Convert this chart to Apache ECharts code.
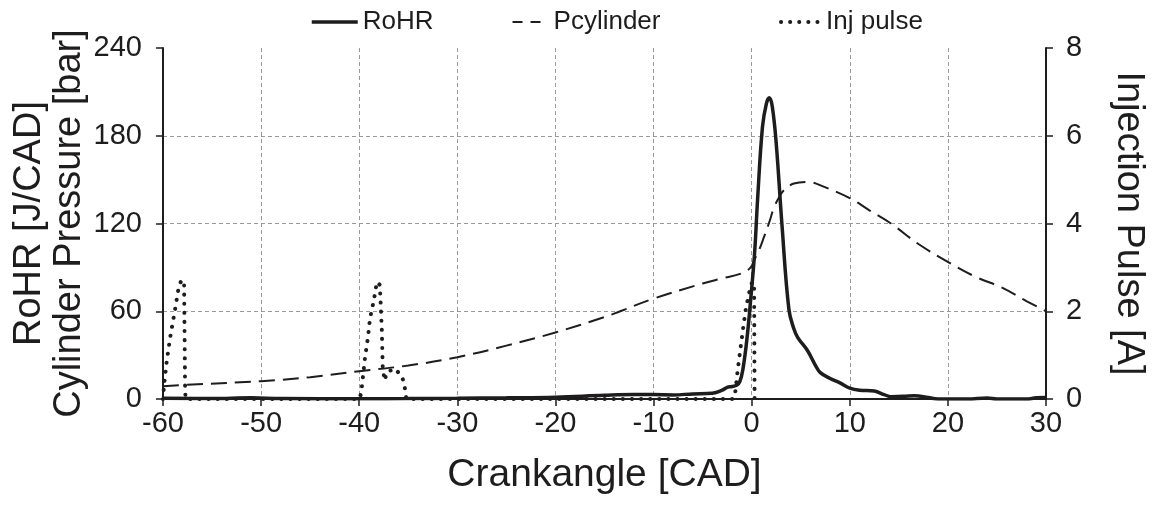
<!DOCTYPE html>
<html>
<head>
<meta charset="utf-8">
<script src="https://cdn.jsdelivr.net/npm/echarts@6/dist/echarts.min.js"></script>
<style>
html,body{margin:0;padding:0;background:#fff;}
#chart{width:1152px;height:507px;}
</style>
</head>
<body>
<div id="chart"></div>
<script>
// ---- data ----
var xTicks = [-60, -50, -40, -30, -20, -10, 0, 10, 20, 30];

var rohrCA = [-60, -55, -51, -48, -40, -35, -30, -25, -20, -15, -12, -10, -8, -6, -4, -3, -2.5, -2, -1.5, -1.2, -0.9, -0.5, -0.1, 0.3, 0.6, 1.1, 1.5, 1.8, 2.1, 2.5, 3.1, 3.8, 4.3, 4.7, 5.7, 6.5, 7, 8, 9, 10, 11, 12.5, 13.5, 14.2, 15.5, 16.6, 18, 19, 22, 24, 25, 28, 29, 30];
var rohr   = [0.5, 0.3, 0.8, 0.3, 0.2, 0.3, 0.5, 0.8, 1.2, 2.5, 3, 3, 2.8, 3.5, 4, 6, 8, 8.5, 9.5, 12, 20, 40, 68, 100, 136, 186, 202, 206, 200, 175, 118, 61, 48, 42, 33, 23, 18, 14, 11, 7.5, 6, 5.4, 3, 1.6, 1.8, 2.3, 1, 0, 0, 0.7, 0, 0, 0.8, 1];

var pcylCA = [-60, -57, -50, -45, -40, -35, -30, -25, -20, -15, -13.4, -10, -5, -3, -1, -0.1, 0.24, 0.7, 1.26, 1.8, 2.28, 2.8, 3.3, 4.3, 5.7, 7.4, 10.1, 12, 14.2, 17, 20.3, 23, 25.4, 28, 30];
var pcyl   = [8.8, 9.9, 12.2, 14.9, 19, 22.9, 28.6, 36.5, 45.5, 56, 60, 68.6, 79, 82.5, 86, 90, 94.8, 101, 110.8, 121, 131, 138, 142.8, 147.3, 148.4, 145, 137, 129, 120, 106, 92.6, 83, 76.5, 67, 60];

var injCA = [-60, -59.9, -59.6, -59.2, -58.8, -58.4, -58.1, -57.85, -57.75, -57.7, -40, -39.8, -39.6, -39.4, -39.1, -38.9, -38.5, -38.2, -37.9, -37.7, -37.6, -37.4, -37.2, -36.4, -35.7, -35.4, -35.3, -35.2, -1.9, -1.7, -1.46, -1.12, -0.85, -0.61, -0.27, 0.05, 0.25, 0.3];
var inj   = [0, 0.3, 0.9, 1.5, 2.0, 2.55, 2.72, 2.6, 0.3, 0, 0, 0.13, 0.55, 0.96, 1.42, 1.84, 2.26, 2.67, 2.6, 1.6, 0.69, 0.42, 0.61, 0.69, 0.54, 0.35, 0.15, 0, 0, 0.1, 0.59, 1.19, 1.65, 2.03, 2.41, 2.67, 2.6, 0];

function pairs(xs, ys) { return xs.map(function (x, i) { return [x, ys[i]]; }); }

var ink = '#1e1c1d';
var font = '"Liberation Sans", Arial, sans-serif';
var legendCommon = {
  top: 4, itemWidth: 46, itemHeight: 14, itemGap: 68,
  itemStyle: {opacity: 0},
  textStyle: {fontSize: 26, color: ink, fontFamily: font}
};

var chart = echarts.init(document.getElementById('chart'), null, {renderer: 'canvas'});
chart.setOption({
  animation: false,
  backgroundColor: '#fff',
  textStyle: {fontFamily: font, color: ink},
  grid: {left: 163, right: 106, top: 48, bottom: 108, containLabel: false, outerBoundsMode: 'none'},
  legend: [
    Object.assign({left: 305, data: [
      {name: 'RoHR', lineStyle: {width: 3.5, color: ink}},
      {name: 'Pcylinder', lineStyle: {width: 2, color: ink, type: [0, 10, 10, 8, 10, 30]}}
    ]}, legendCommon),
    Object.assign({left: 768, data: [
      {name: 'Inj pulse', lineStyle: {width: 4, color: ink, type: [0.1, 9], cap: 'round', dashOffset: -6}}
    ]}, legendCommon)
  ],
  xAxis: {
    type: 'value', min: -60, max: 30, interval: 10,
    axisLine: {show: true, onZero: false, lineStyle: {color: ink, width: 2}},
    axisTick: {show: true, inside: false, length: 7, lineStyle: {color: ink, width: 1.5}},
    axisLabel: {fontSize: 29, color: ink, margin: 10, fontFamily: font},
    splitLine: {show: true, showMinLine: false, showMaxLine: false, lineStyle: {color: '#9a9a9a', type: [4, 3], width: 1}},
    name: 'Crankangle [CAD]', nameLocation: 'middle', nameGap: 57, nameMoveOverlap: false,
    nameTextStyle: {fontSize: 39, color: ink, fontFamily: font}
  },
  yAxis: [{
    type: 'value', min: 0, max: 240, interval: 60,
    axisLine: {show: true, onZero: false, lineStyle: {color: ink, width: 2}},
    axisTick: {show: true, inside: false, length: 7, lineStyle: {color: ink, width: 1.5}},
    axisLabel: {fontSize: 29, color: ink, margin: 21, fontFamily: font},
    splitLine: {show: true, showMinLine: false, showMaxLine: false, lineStyle: {color: '#9a9a9a', type: [4, 3], width: 1}},
    name: 'RoHR [J/CAD]\nCylinder Pressure [bar]', nameLocation: 'middle', nameGap: 73, nameMoveOverlap: false,
    nameTextStyle: {fontSize: 38, lineHeight: 40, color: ink, fontFamily: font}
  }, {
    type: 'value', min: 0, max: 8, interval: 2, position: 'right',
    axisLine: {show: true, onZero: false, lineStyle: {color: ink, width: 2}},
    axisTick: {show: true, inside: false, length: 7, lineStyle: {color: ink, width: 1.5}},
    axisLabel: {fontSize: 29, color: ink, margin: 20, fontFamily: font},
    splitLine: {show: false},
    name: 'Injection Pulse [A]', nameLocation: 'middle', nameGap: 63, nameRotate: -90, nameMoveOverlap: false,
    nameTextStyle: {fontSize: 38, color: ink, fontFamily: font}
  }],
  series: [{
    name: 'Pcylinder', type: 'line', yAxisIndex: 0, smooth: 0.4, symbol: 'none',
    data: pairs(pcylCA, pcyl),
    lineStyle: {color: ink, width: 2, type: [16, 8]},
    itemStyle: {color: ink}, z: 2
  }, {
    name: 'Inj pulse', type: 'line', yAxisIndex: 1, symbol: 'none',
    data: pairs(injCA, inj),
    lineStyle: {color: ink, width: 4, type: [0.1, 9], cap: 'round'},
    itemStyle: {color: ink}, z: 3
  }, {
    name: 'RoHR', type: 'line', yAxisIndex: 0, smooth: 0.4, symbol: 'none',
    data: pairs(rohrCA, rohr),
    lineStyle: {color: ink, width: 3.5},
    itemStyle: {color: ink}, z: 4
  }]
});
</script>
</body>
</html>
